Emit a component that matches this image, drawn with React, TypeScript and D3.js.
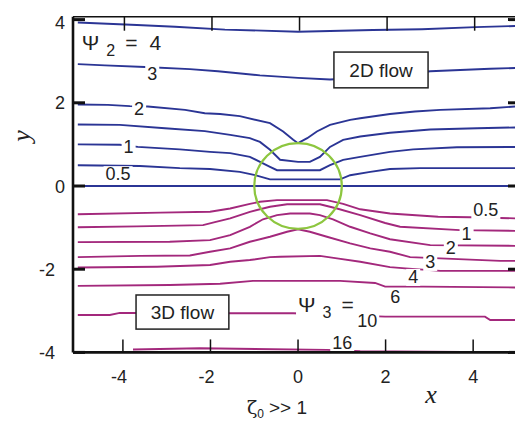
import { useEffect, useRef } from "react";
import * as d3 from "d3";

const xTicks = [-4, -2, 0, 2, 4];
const yTicks = [4, 2, 0, -2, -4];

// 2D flow streamlines (upper half), points read as [x, y]
const psi2_4 = [[-5.03,3.93],[-3.68,3.87],[-2.81,3.83],[-1.67,3.76],[0,3.71],[1.71,3.75],[2.83,3.77],[4.05,3.82],[5.07,3.85]];
const psi2_3 = [[-5.03,2.93],[-4.41,2.90],[-3.5,2.86],[-2.47,2.81],[-1.83,2.76],[-0.87,2.66],[0,2.60],[0.73,2.56],[1.9,2.62],[3.02,2.76],[4.39,2.82],[5.07,2.84]];
const psi2_2 = [[-5.03,1.96],[-4.34,1.95],[-3.84,1.92],[-3.43,1.91],[-2.58,1.83],[-2.13,1.75],[-1.78,1.73],[-1.33,1.68],[-0.64,1.51],[-0.34,1.31],[-0.11,1.11],[0,1.03],[0.21,1.15],[0.43,1.31],[0.73,1.47],[1.19,1.59],[1.42,1.63],[2.1,1.73],[2.67,1.79],[3.25,1.83],[4.39,1.87],[5.07,1.92]];
const psi2_15 = [[-5.03,1.48],[-4.07,1.47],[-3.04,1.39],[-2.13,1.32],[-1.55,1.23],[-1.1,1.15],[-0.87,1.06],[-0.64,0.87],[-0.41,0.63],[0,0.58],[0.27,0.58],[0.5,0.70],[0.73,0.94],[1.03,1.11],[1.42,1.19],[2.1,1.28],[3.02,1.36],[4.09,1.39],[5.07,1.41]];
const psi2_1 = [[-5.03,1.0],[-4.07,0.99],[-3.66,0.94],[-2.7,0.88],[-2.01,0.82],[-1.55,0.79],[-1.1,0.70],[-0.64,0.46],[-0.48,0.38],[0.5,0.38],[0.73,0.50],[1.03,0.63],[1.42,0.70],[2.1,0.82],[2.63,0.88],[3.63,0.93],[5.07,0.94]];
const psi2_05 = [[-5.03,0.5],[-3.61,0.48],[-2.7,0.43],[-2.01,0.41],[-1.33,0.34],[-0.98,0.26],[-0.64,0.16],[0.96,0.16],[1.19,0.26],[1.65,0.34],[2.1,0.41],[2.79,0.43],[5.07,0.43]];
const psi2_0 = [[-5.14,0],[5.07,0]];

// 3D flow streamlines (lower half)
const psi3_05 = [[-5.03,-0.68],[-3.15,-0.64],[-2.01,-0.62],[-1.55,-0.54],[-1.1,-0.43],[-0.87,-0.38],[-0.48,-0.34],[0.66,-0.34],[1.03,-0.43],[1.42,-0.56],[2.1,-0.66],[3.2,-0.74],[3.93,-0.75],[5.07,-0.78]];
const psi3_1 = [[-5.03,-0.99],[-3.68,-0.97],[-2.17,-0.94],[-1.9,-0.87],[-1.55,-0.78],[-1.1,-0.62],[-0.64,-0.50],[-0.25,-0.44],[0.5,-0.44],[0.89,-0.54],[1.42,-0.70],[1.99,-0.89],[2.33,-0.98],[3.7,-1.06],[5.07,-1.08]];
const psi3_2 = [[-5.03,-1.35],[-2.93,-1.34],[-2.01,-1.30],[-1.55,-1.18],[-1.1,-0.98],[-0.8,-0.80],[-0.48,-0.70],[-0.18,-0.66],[0.27,-0.66],[0.5,-0.70],[0.8,-0.80],[1.19,-0.98],[1.65,-1.14],[2.1,-1.28],[3.02,-1.42],[5.07,-1.44]];
const psi3_3 = [[-5.03,-1.71],[-3.6,-1.68],[-2.47,-1.67],[-2.01,-1.58],[-1.55,-1.50],[-1.1,-1.34],[-0.64,-1.22],[-0.25,-1.10],[0,-1.04],[0.27,-1.10],[0.66,-1.22],[1.19,-1.38],[1.65,-1.50],[2.1,-1.58],[2.56,-1.71],[3.25,-1.74],[4.62,-1.80],[5.07,-1.80]];
const psi3_4 = [[-5.03,-1.96],[-3.22,-1.94],[-2.01,-1.90],[-1.55,-1.82],[-1.1,-1.78],[-0.64,-1.71],[-0.41,-1.70],[0.5,-1.68],[0.89,-1.74],[1.42,-1.82],[2.1,-1.95],[2.45,-1.98],[3.25,-2.04],[5.07,-2.04]];
const psi3_6 = [[-5.03,-2.40],[-2.93,-2.38],[-1.78,-2.35],[-1.03,-2.28],[0.96,-2.28],[1.76,-2.33],[1.99,-2.42],[2.86,-2.42],[5.07,-2.44]];
const psi3_10 = [[-5.03,-3.10],[-4.3,-3.10],[-4.07,-3.05],[-1.51,-3.06],[-0.11,-3.06],[1.99,-3.14],[4.27,-3.14],[4.39,-3.22],[5.07,-3.22]];
const psi3_16 = [[-3.77,-3.93],[-2.24,-3.90],[0.66,-3.94],[1.42,-3.97],[3.75,-3.99],[5.07,-3.99]];

const lines2D = [psi2_4, psi2_3, psi2_2, psi2_15, psi2_1, psi2_05, psi2_0];
const lines3D = [psi3_05, psi3_1, psi3_2, psi3_3, psi3_4, psi3_6, psi3_10, psi3_16];

// contour labels: text, x, y (baseline)
const labels2D = [["3", -3.33, 2.55], ["2", -3.63, 1.71], ["1", -3.87, 0.79], ["0.5", -4.11, 0.14]];
const labels3D = [["0.5", 4.29, -0.72], ["1", 3.85, -1.30], ["2", 3.49, -1.63], ["3", 3.02, -1.97], ["4", 2.63, -2.33], ["6", 2.22, -2.81], ["10", 1.58, -3.39], ["16", 1.01, -3.92]];

const BLUE = "#2b3595";
const PURPLE = "#a3287c";
const GREEN = "#8dc63f";

export default function App() {
  const svgRef = useRef(null);

  useEffect(() => {
    const svg = d3.select(svgRef.current);
    svg.selectAll("*").remove();

    const x = d3.scaleLinear().domain([-5.14, 5.07]).range([73, 520]);
    const y = d3.scaleLinear().domain([-4, 4.07]).range([352.4, 16.7]);

    svg.append("rect").attr("width", 515).attr("height", 425).attr("fill", "#fff");

    const line = d3.line().x(d => x(d[0])).y(d => y(d[1]));

    svg.append("g").selectAll("path").data(lines2D).enter().append("path")
      .attr("d", line).attr("fill", "none").attr("stroke", BLUE).attr("stroke-width", 1.9);
    svg.append("g").selectAll("path").data(lines3D).enter().append("path")
      .attr("d", line).attr("fill", "none").attr("stroke", PURPLE).attr("stroke-width", 1.9);

    // sphere
    svg.append("ellipse")
      .attr("cx", x(0)).attr("cy", y(0))
      .attr("rx", x(1) - x(0)).attr("ry", y(0) - y(1.03))
      .attr("fill", "none").attr("stroke", GREEN).attr("stroke-width", 2.2);

    const font = "Liberation Sans, Arial, sans-serif";

    const addLabel = (txt, lx, ly, anchor = "middle") => {
      const g = svg.append("g");
      const t = g.append("text").attr("x", x(lx)).attr("y", y(ly))
        .attr("text-anchor", anchor).attr("font-family", font).attr("font-size", 18).attr("fill", "#222").text(txt);
      const b = t.node().getBBox();
      g.insert("rect", "text").attr("x", b.x - 2).attr("y", b.y + 2).attr("width", b.width + 4).attr("height", b.height - 3).attr("fill", "#fff");
    };
    labels2D.forEach(d => addLabel(d[0], d[1], d[2]));
    labels3D.forEach(d => addLabel(d[0], d[1], d[2]));

    // psi labels
    const psiLabel = (sub, rest, lx, ly, gap) => {
      const g = svg.append("g");
      const t = g.append("text").attr("x", x(lx)).attr("y", y(ly))
        .attr("font-family", font).attr("font-size", 21).attr("fill", "#222");
      t.append("tspan").text("Ψ");
      t.append("tspan").attr("font-size", 16).attr("dy", 6).attr("dx", 7).text(sub);
      t.append("tspan").attr("dy", -6).attr("dx", 10).text(rest[0]);
      if (rest[1]) t.append("tspan").attr("dx", gap).text(rest[1]);
      const b = t.node().getBBox();
      g.insert("rect", "text").attr("x", b.x - 2).attr("y", b.y).attr("width", b.width + 6).attr("height", b.height).attr("fill", "#fff");
    };
    psiLabel("2", ["=", "4"], -4.94, 3.27, 12);
    psiLabel("3", ["="], 0.0, -3.03, 0);

    // flow boxes
    const box = (txt, x0, y0, x1, y1) => {
      svg.append("rect").attr("x", x(x0)).attr("y", y(y0))
        .attr("width", x(x1) - x(x0)).attr("height", y(y1) - y(y0))
        .attr("fill", "#fff").attr("stroke", "#222").attr("stroke-width", 1.5);
      svg.append("text").attr("x", (x(x0) + x(x1)) / 2).attr("y", (y(y0) + y(y1)) / 2 + 7)
        .attr("text-anchor", "middle").attr("font-family", font).attr("font-size", 19).attr("fill", "#222").text(txt);
    };
    box("2D flow", 0.82, 3.22, 2.97, 2.36);
    box("3D flow", -3.70, -2.62, -1.58, -3.44);

    // frame
    const [x0, x1] = x.range();
    const [yb, yt] = y.range();
    svg.append("line").attr("x1", x0).attr("x2", x1).attr("y1", yt).attr("y2", yt).attr("stroke", "#111").attr("stroke-width", 1.6);
    svg.append("line").attr("x1", x1).attr("x2", x1).attr("y1", yt).attr("y2", yb).attr("stroke", "#111").attr("stroke-width", 1.6);
    svg.append("line").attr("x1", x0).attr("x2", x1).attr("y1", yb).attr("y2", yb).attr("stroke", "#111").attr("stroke-width", 2.6);
    svg.append("line").attr("x1", x0).attr("x2", x0).attr("y1", yt).attr("y2", yb).attr("stroke", "#111").attr("stroke-width", 2.6);

    // ticks
    xTicks.forEach(v => {
      svg.append("line").attr("x1", x(v)).attr("x2", x(v)).attr("y1", yb).attr("y2", yb - 13).attr("stroke", "#111").attr("stroke-width", 1.5);
      svg.append("line").attr("x1", x(v) + 1.5).attr("x2", x(v) + 1.5).attr("y1", yt).attr("y2", yt + 14).attr("stroke", "#111").attr("stroke-width", 1.5);
      svg.append("text").attr("x", x(v) - (v < 0 ? 4 : 0)).attr("y", 383)
        .attr("text-anchor", "middle").attr("font-family", font).attr("font-size", 18).attr("fill", "#222").text(v);
    });
    yTicks.forEach(v => {
      svg.append("line").attr("x1", x0).attr("x2", x0 + 12).attr("y1", y(v)).attr("y2", y(v)).attr("stroke", "#111").attr("stroke-width", 3);
      svg.append("line").attr("x1", x1).attr("x2", x1 - 12).attr("y1", y(v)).attr("y2", y(v)).attr("stroke", "#111").attr("stroke-width", 3);
      svg.append("text").attr("x", v < 0 ? 55 : 65).attr("y", Math.max(y(v), 22.5) + 6.5)
        .attr("text-anchor", "end").attr("font-family", font).attr("font-size", 18).attr("fill", "#222").text(v);
    });

    // axis titles
    svg.append("text").attr("transform", "translate(30,136) rotate(-90)")
      .attr("text-anchor", "middle").attr("font-family", "Liberation Serif, serif").attr("font-style", "italic")
      .attr("font-size", 26).attr("fill", "#222").text("y");
    svg.append("text").attr("x", 431).attr("y", 403)
      .attr("text-anchor", "middle").attr("font-family", "Liberation Serif, serif").attr("font-style", "italic")
      .attr("font-size", 26).attr("fill", "#222").text("x");
    const z = svg.append("text").attr("x", 247).attr("y", 414)
      .attr("font-family", font).attr("font-size", 19).attr("fill", "#222");
    z.append("tspan").attr("font-family", "DejaVu Serif, serif").text("ζ");
    z.append("tspan").attr("font-size", 12).attr("dy", 4).text("0");
    z.append("tspan").attr("dy", -4).attr("dx", 5).text(">> 1");
  }, []);

  return <svg ref={svgRef} width={515} height={425} style={{ position: "absolute", left: 0, top: 0 }} />;
}
